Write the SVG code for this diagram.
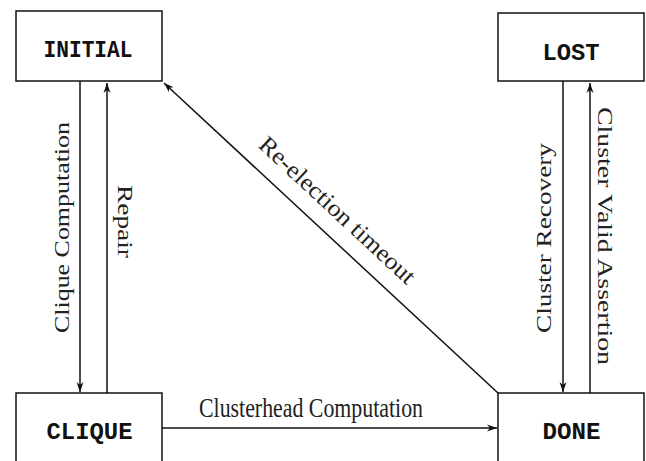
<svg xmlns="http://www.w3.org/2000/svg" width="646" height="461" viewBox="0 0 646 461">
<style>
.box{fill:#fff;stroke:#111;stroke-width:1.5}
.st{font-family:"Liberation Mono",monospace;font-weight:bold;font-size:24px;fill:#111;text-anchor:middle}
.lb{font-family:"Liberation Serif",serif;font-size:21px;fill:#222;text-anchor:middle}
.cn{stroke:#111;stroke-width:1.5;fill:none;marker-end:url(#ah)}
</style>
<defs>
<marker id="ah" markerWidth="12" markerHeight="8" refX="10" refY="4" orient="auto" markerUnits="userSpaceOnUse">
<path d="M0,0.5 L10,4 L0,7.5 L3,4 z" fill="#111"/>
</marker>
</defs>
<rect width="646" height="461" fill="#fff"/>
<g id="connectors">
<line class="cn" x1="80" y1="81" x2="80" y2="392"/>
<line class="cn" x1="107" y1="393" x2="107" y2="83"/>
<line class="cn" x1="563" y1="81" x2="563" y2="392"/>
<line class="cn" x1="590" y1="393" x2="590" y2="83"/>
<line class="cn" x1="162" y1="428" x2="497" y2="428"/>
<line class="cn" x1="498" y1="393" x2="164" y2="83"/>
<text class="lb" transform="translate(69,227.5) rotate(-90)" textLength="211" lengthAdjust="spacingAndGlyphs">Clique Computation</text>
<text class="lb" transform="translate(118,221.5) rotate(90)" textLength="73" lengthAdjust="spacingAndGlyphs">Repair</text>
<text class="lb" transform="translate(551,238) rotate(-90)" textLength="190" lengthAdjust="spacingAndGlyphs">Cluster Recovery</text>
<text class="lb" transform="translate(598,236) rotate(90)" textLength="258" lengthAdjust="spacingAndGlyphs">Cluster Valid Assertion</text>
<text class="lb" x="311" y="417" style="font-size:27px" textLength="224" lengthAdjust="spacingAndGlyphs">Clusterhead Computation</text>
<text class="lb" transform="translate(332,216) rotate(42.9)" style="font-size:24px" textLength="204" lengthAdjust="spacingAndGlyphs">Re-election timeout</text>
</g>
<g id="initial">
<rect class="box" x="16" y="11" width="146" height="70"/>
<text class="st" x="88" y="57" textLength="89" lengthAdjust="spacingAndGlyphs">INITIAL</text>
</g>
<g id="lost">
<rect class="box" x="498" y="13" width="146" height="68"/>
<text class="st" x="571" y="60" textLength="57" lengthAdjust="spacingAndGlyphs">LOST</text>
</g>
<g id="clique">
<rect class="box" x="16" y="393" width="146" height="80"/>
<text class="st" x="89.5" y="439" textLength="86" lengthAdjust="spacingAndGlyphs">CLIQUE</text>
</g>
<g id="done">
<rect class="box" x="498" y="393" width="146" height="80"/>
<text class="st" x="571.5" y="439" textLength="58" lengthAdjust="spacingAndGlyphs">DONE</text>
</g>
</svg>
